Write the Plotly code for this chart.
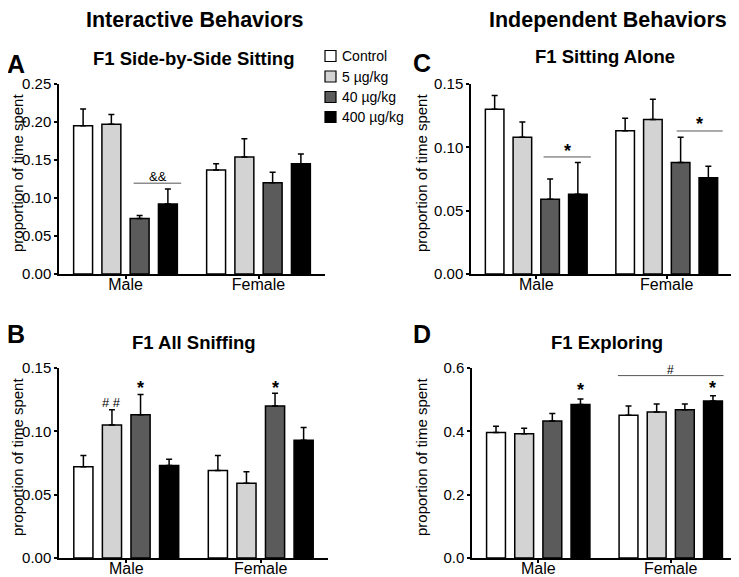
import plotly.graph_objects as go
from plotly.subplots import make_subplots

groups = ["Male", "Female"]
doses = ["Control", "5 µg/kg", "40 µg/kg", "400 µg/kg"]
colors = ["#ffffff", "#d3d3d3", "#5b5b5b", "#000000"]
y_title = "proportion of time spent"

# Panel A: F1 Side-by-Side Sitting (index = dose)
a_male = [0.195, 0.197, 0.073, 0.092]
a_male_sem = [0.022, 0.013, 0.004, 0.020]
a_female = [0.137, 0.154, 0.120, 0.145]
a_female_sem = [0.008, 0.024, 0.014, 0.013]

# Panel B: F1 All Sniffing
b_male = [0.072, 0.105, 0.113, 0.073]
b_male_sem = [0.009, 0.012, 0.016, 0.005]
b_female = [0.069, 0.059, 0.120, 0.093]
b_female_sem = [0.012, 0.009, 0.010, 0.010]

# Panel C: F1 Sitting Alone
c_male = [0.130, 0.108, 0.059, 0.063]
c_male_sem = [0.011, 0.012, 0.016, 0.025]
c_female = [0.113, 0.122, 0.088, 0.076]
c_female_sem = [0.010, 0.016, 0.020, 0.009]

# Panel D: F1 Exploring
d_male = [0.396, 0.392, 0.433, 0.485]
d_male_sem = [0.020, 0.018, 0.023, 0.017]
d_female = [0.451, 0.461, 0.468, 0.496]
d_female_sem = [0.029, 0.025, 0.018, 0.016]

BARGAP = 0.15
GROUPGAP = 0.33
SLOT = (1 - BARGAP) / 4

W, H = 739, 577
OFF = 8  # page body margin


def px(x):
    return (x - OFF) / W


def py(y):
    return 1 - (y - OFF) / H


def bar_center(g, i):
    return g + (i - 1.5) * SLOT


fig = make_subplots(rows=2, cols=2)

panels = [
    (1, 1, a_male, a_male_sem, a_female, a_female_sem),
    (1, 2, c_male, c_male_sem, c_female, c_female_sem),
    (2, 1, b_male, b_male_sem, b_female, b_female_sem),
    (2, 2, d_male, d_male_sem, d_female, d_female_sem),
]

for k, (r, c, m, ms, f, fs) in enumerate(panels):
    for i, dose in enumerate(doses):
        fig.add_trace(
            go.Bar(
                x=groups,
                y=[m[i], f[i]],
                name=dose,
                showlegend=False,
                marker=dict(color=colors[i], line=dict(color="black", width=1.5)),
                error_y=dict(
                    type="data",
                    symmetric=False,
                    array=[ms[i], fs[i]],
                    arrayminus=[0, 0],
                    color="black",
                    thickness=1.5,
                    width=3,
                ),
            ),
            row=r,
            col=c,
        )

FONT = "Liberation Sans, Arial, sans-serif"

doms = {
    "": ([px(59), px(325)], [py(274), py(84)]),
    "2": ([px(471), px(732)], [py(274), py(84)]),
    "3": ([px(59), px(328)], [py(558), py(368)]),
    "4": ([px(472), px(737)], [py(558), py(368)]),
}
ranges = {"": (0.25, 0.05, ".2f"), "2": (0.15, 0.05, ".2f"), "3": (0.15, 0.05, ".2f"), "4": (0.6, 0.2, ".1f")}
ytitle_pos = {"": (17, 173), "2": (421, 173), "3": (17, 457), "4": (421, 457)}

shapes = []
annots = []

for key, (xd, yd) in doms.items():
    top, dt, fmt = ranges[key]
    fig.layout["xaxis" + key].update(
        domain=xd, showline=True, linecolor="black", linewidth=1.5,
        ticks="outside", ticklen=3, tickwidth=1.5, tickcolor="black",
        tickfont=dict(size=16, color="black", family=FONT), showgrid=False,
        zeroline=False, automargin=False, ticklabelstandoff=-8,
    )
    fig.layout["yaxis" + key].update(
        domain=yd, range=[0, top], dtick=dt, tick0=0, tickformat=fmt,
        showline=True, linecolor="black", linewidth=1.5,
        ticks="outside", ticklen=3, tickwidth=1.5, tickcolor="black",
        tickfont=dict(size=15, color="black", family=FONT), showgrid=False,
        zeroline=False, automargin=False,
    )
    tx, ty = ytitle_pos[key]
    annots.append(dict(xref="paper", yref="paper", x=px(tx), y=py(ty), text=y_title,
                       textangle=-90, showarrow=False, xanchor="center", yanchor="middle",
                       font=dict(size=15, color="black", family=FONT)))


def sig_line(xref, yref, x0, x1, y):
    shapes.append(dict(type="line", xref=xref, yref=yref, x0=x0, x1=x1, y0=y, y1=y,
                       line=dict(color="#555555", width=1)))


def label(xref, yref, x, y, text, size=16, bold=False):
    annots.append(dict(xref=xref, yref=yref, x=x, y=y, text=("<b>%s</b>" % text) if bold else text,
                       showarrow=False, font=dict(size=size, color="black", family=FONT),
                       yanchor="middle"))


# Panel A
sig_line("x", "y", bar_center(0, 2) - 0.045, bar_center(0, 3) + 0.1, 0.1195)
label("x", "y", (bar_center(0, 2) + bar_center(0, 3)) / 2 + 0.03, 0.1285, "&&", size=13)
# Panel C
sig_line("x2", "y2", bar_center(0, 2) - 0.05, bar_center(0, 3) + 0.1, 0.0924)
label("x2", "y2", (bar_center(0, 2) + bar_center(0, 3)) / 2 + 0.025, 0.0975, "*", size=18, bold=True)
sig_line("x2", "y2", bar_center(1, 2) - 0.03, bar_center(1, 3) + 0.11, 0.1129)
label("x2", "y2", (bar_center(1, 2) + bar_center(1, 3)) / 2 + 0.04, 0.1185, "*", size=18, bold=True)
# Panel B
label("x3", "y3", bar_center(0, 1), 0.1225, "# #", size=13)
label("x3", "y3", bar_center(0, 2), 0.134, "*", size=18, bold=True)
label("x3", "y3", bar_center(1, 2), 0.134, "*", size=18, bold=True)
# Panel D
label("x4", "y4", bar_center(0, 3), 0.53, "*", size=18, bold=True)
sig_line("x4", "y4", bar_center(1, 0) - 0.08, bar_center(1, 3) + 0.08, 0.576)
label("x4", "y4", (bar_center(1, 0) + bar_center(1, 3)) / 2, 0.593, "#", size=12)
label("x4", "y4", bar_center(1, 3), 0.536, "*", size=18, bold=True)

# Titles
for txt, x, y, size in [
    ("Interactive Behaviors", 195, 19.5, 21.5),
    ("Independent Behaviors", 608, 19.5, 21.5),
    ("F1 Side-by-Side Sitting", 193, 58, 18.5),
    ("F1 Sitting Alone", 605, 57, 18.5),
    ("F1 All Sniffing", 194, 342, 18.5),
    ("F1 Exploring", 607, 342, 18.5),
]:
    annots.append(dict(xref="paper", yref="paper", x=px(x), y=py(y), text="<b>%s</b>" % txt,
                       showarrow=False, xanchor="center", yanchor="middle",
                       font=dict(size=size, color="black", family=FONT)))
for txt, x, y in [("A", 6, 64), ("C", 412, 63), ("B", 6, 334), ("D", 412, 334)]:
    annots.append(dict(xref="paper", yref="paper", x=px(x), y=py(y), text="<b>%s</b>" % txt,
                       showarrow=False, xanchor="left", yanchor="middle", borderpad=0,
                       font=dict(size=25, color="black", family=FONT)))

# Legend (key drawn as swatches + real text)
legend_rows = [56, 76.5, 97, 117]
for i, dose in enumerate(doses):
    yc = legend_rows[i]
    shapes.append(dict(type="rect", xref="paper", yref="paper",
                       x0=px(325), x1=px(336), y0=py(yc + 5.5), y1=py(yc - 5.5),
                       fillcolor=colors[i], line=dict(color="black", width=1.2)))
    annots.append(dict(xref="paper", yref="paper", x=px(340), y=py(yc), text=dose,
                       showarrow=False, xanchor="left", yanchor="middle",
                       font=dict(size=14, color="black", family=FONT)))

fig.update_layout(
    template="none",
    width=W, height=H,
    margin=dict(l=0, r=0, t=0, b=0, autoexpand=False),
    paper_bgcolor="white", plot_bgcolor="white",
    barmode="group", bargap=BARGAP, bargroupgap=GROUPGAP,
    shapes=shapes, annotations=annots,
    showlegend=False,
    font=dict(family=FONT, color="black"),
)

fig.write_html("out.html")
